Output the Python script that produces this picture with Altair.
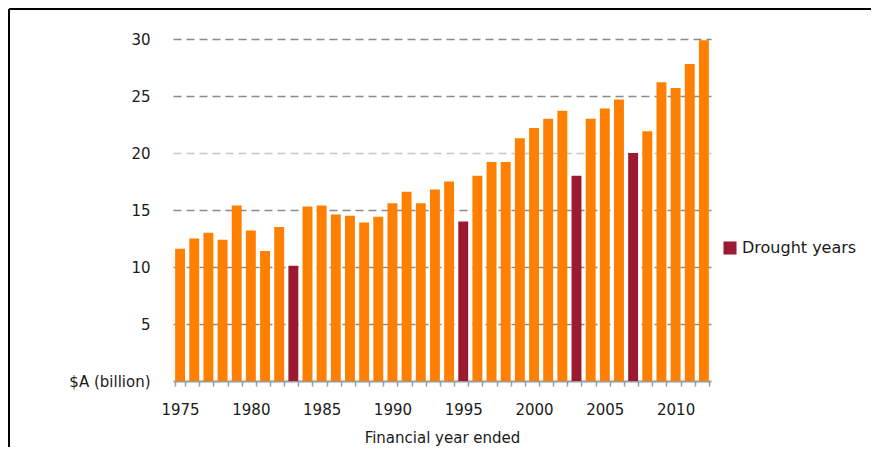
import altair as alt
import pandas as pd

years = list(range(1975, 2013))
values = [11.6, 12.5, 13.0, 12.4, 15.4, 13.2, 11.4, 13.5, 10.1, 15.3,
          15.4, 14.6, 14.5, 13.9, 14.4, 15.6, 16.6, 15.6, 16.8, 17.5,
          14.0, 18.0, 19.2, 19.2, 21.3, 22.2, 23.0, 23.7, 18.0, 23.0,
          23.9, 24.7, 20.0, 21.9, 26.2, 25.7, 27.8, 29.9]
drought_years = [1983, 1995, 2003, 2007]
y_ticks = [0, 5, 10, 15, 20, 25, 30]
x_label_years = [1975, 1980, 1985, 1990, 1995, 2000, 2005, 2010]

ORANGE = "#FF7F00"
DARK = "#9B1A31"
FONT = "DejaVu Sans"

df = pd.DataFrame({
    "year": years,
    "value": values,
    "kind": ["Drought years" if y in drought_years else "Other" for y in years],
})

label_test = " || ".join(f"datum.value == {y}" for y in x_label_years)

bars = alt.Chart(df).mark_bar().encode(
    x=alt.X("year:O",
            scale=alt.Scale(paddingInner=0.3, paddingOuter=0.15),
            axis=alt.Axis(title="Financial year ended",
                          labelExpr=f"({label_test}) ? datum.label : ''",
                          labelAngle=0, tickBand="extent", tickSize=5,
                          tickColor="#9a9a9a", domainColor="#9a9a9a",
                          domainWidth=2, tickWidth=1.5,
                          labelPadding=16, titlePadding=13,
                          labelFont=FONT, labelFontSize=15, labelColor="#1a1a1a",
                          titleFont=FONT, titleFontSize=15, titleColor="#1a1a1a",
                          titleFontWeight="normal", grid=False)),
    y=alt.Y("value:Q",
            scale=alt.Scale(domain=[0, 30], nice=False),
            axis=alt.Axis(title=None, values=y_ticks, domain=False, ticks=False,
                          labelExpr="datum.value == 0 ? '$A (billion)' : datum.label",
                          labelPadding=23, labelFont=FONT, labelFontSize=15,
                          labelColor="#1a1a1a",
                          gridDash=[8, 5], gridWidth=1.5,
                          gridColor={"condition": {"test": "datum.value == 20", "value": "#c8c8c8"},
                                     "value": "#8a8a8a"},
                          gridOpacity={"condition": {"test": "datum.value == 0", "value": 0},
                                       "value": 1})),
    color=alt.Color("kind:N",
                    scale=alt.Scale(domain=["Other", "Drought years"], range=[ORANGE, DARK]),
                    legend=alt.Legend(title=None, values=["Drought years"], orient="none",
                                      legendX=549, legendY=201, symbolType="square",
                                      symbolSize=170, symbolStrokeWidth=0,
                                      labelFont=FONT, labelFontSize=16, labelColor="#1a1a1a",
                                      labelOffset=4)),
)

frame_data = alt.Data(values=[{"a": 1}])
top_line = alt.Chart(frame_data).mark_rule(color="black", strokeWidth=2).encode(
    x=alt.value(-164), x2=alt.value(720), y=alt.value(-30))
left_line = alt.Chart(frame_data).mark_rule(color="black", strokeWidth=2).encode(
    x=alt.value(-164), y=alt.value(-30), y2=alt.value(430))

chart = alt.layer(bars, top_line, left_line).properties(
    width=538, height=342,
    autosize=alt.AutoSizeParams(type="none"),
    padding={"left": 165, "top": 31, "right": 160, "bottom": 66},
).configure_view(stroke=None)

chart.save("out.html", embed_options={"renderer": "svg", "actions": False})
